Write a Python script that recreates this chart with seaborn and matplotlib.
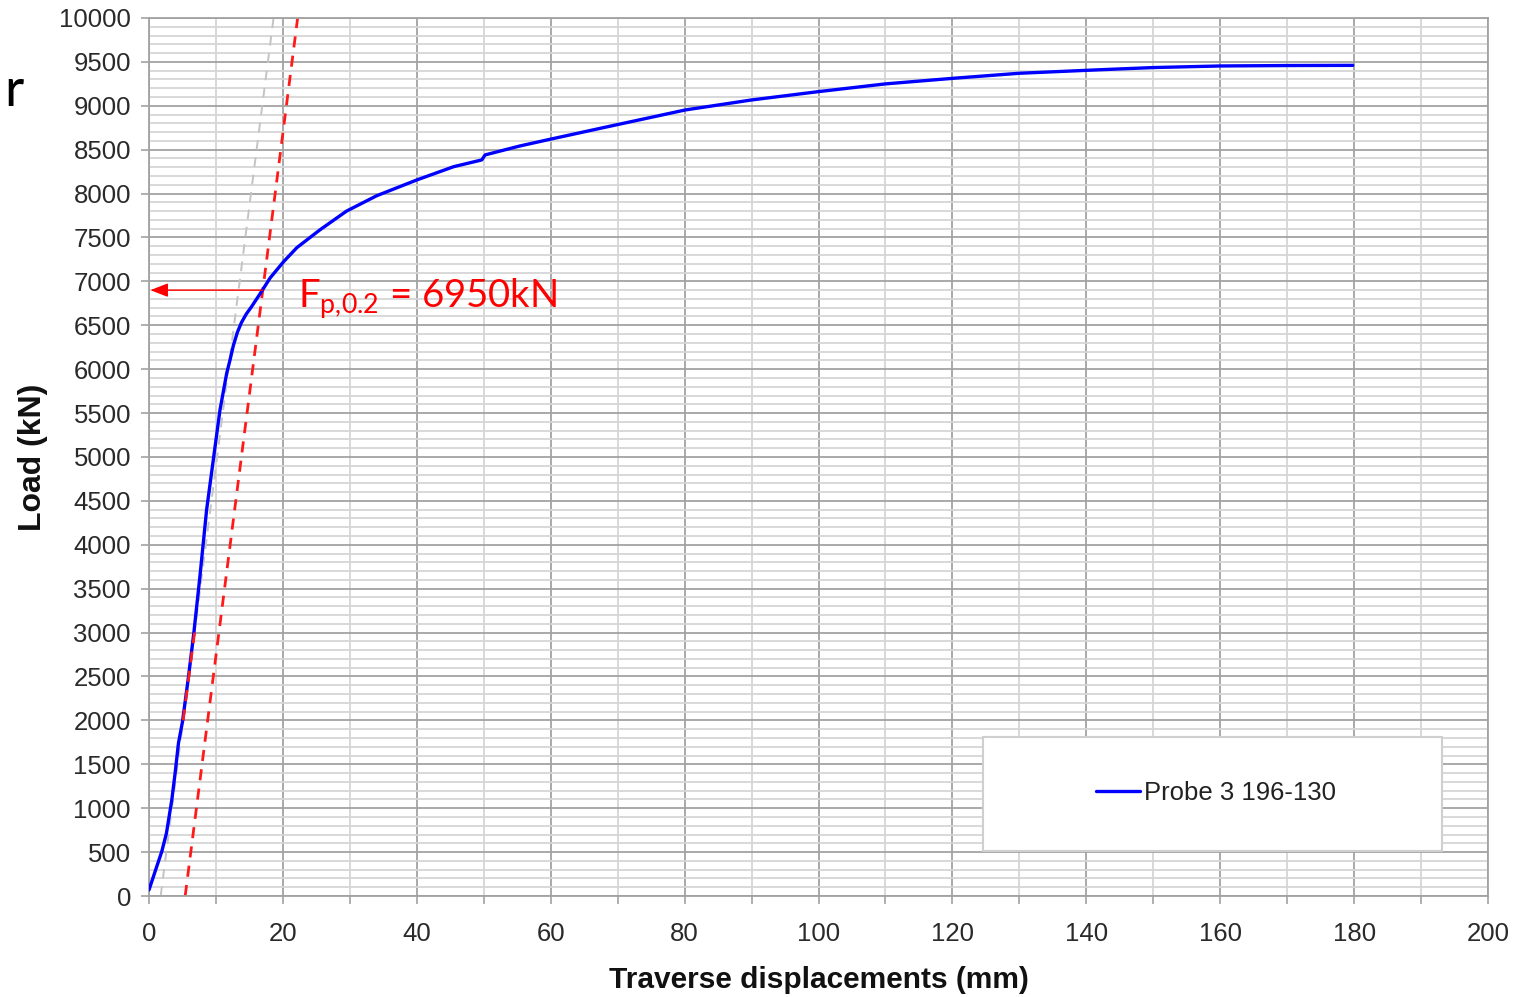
import matplotlib
matplotlib.use("Agg")
import matplotlib.pyplot as plt
import matplotlib.ticker as mticker
from matplotlib.patches import Rectangle
from matplotlib.lines import Line2D
import seaborn as sns
import pandas as pd

# Kurve Probe 3
verschiebung_mm = [0, 0.9, 1.9, 2.6, 3.4, 3.9, 4.4, 5.0, 5.9, 6.7, 7.6, 8.6, 9.6,
                   10.6, 11.6, 12.1, 12.6, 13.2, 13.8, 14.5, 15.3, 16.6, 18.1,
                   20.1, 22.1, 25.5, 29.5, 34.0, 40.0, 45.5, 49.7, 50.2, 55.4,
                   60.0, 67.4, 80.1, 90.0, 100.0, 110.0, 120.0, 130.0, 142.0,
                   150.0, 160.0, 170.0, 179.8]
last_kn = [70, 277, 505, 714, 1093, 1400, 1742, 1985, 2500, 3000, 3637, 4396, 4966,
           5535, 5953, 6105, 6270, 6420, 6530, 6625, 6710, 6860, 7040,
           7224, 7385, 7585, 7800, 7975, 8155, 8306, 8383, 8440, 8542,
           8620, 8743, 8952, 9066, 9161, 9249, 9312, 9370, 9410,
           9435, 9453, 9458, 9460]
legende_text = "Probe 3 196-130"

# Hilfsgeraden (elastische Gerade und um 0,2 % versetzte Gerade)
gerade_grau_x = [1.74, 18.6]
gerade_grau_y = [0, 10000]
tangente_rot_x = [5.1, 6.8]
tangente_rot_y = [2000, 3000]
versatz_rot_x = [5.4, 22.2]
versatz_rot_y = [0, 10000]

# Ablesung F_p,0.2
fp_x = 17.0
fp_y = 6900
fp_text = r"$\mathregular{F_{p{,}0.2}}$ = 6950kN"

df = pd.DataFrame({"x": verschiebung_mm, "y": last_kn})

sns.set_theme(style="white")
plt.rcParams["font.family"] = ["Liberation Sans", "DejaVu Sans"]

fig = plt.figure(figsize=(15.19, 9.97), dpi=100)
ax = fig.add_axes([0.0981, 0.1013, 0.8815, 0.8807])

gitter_dunkel = "#a2a2a2"
gitter_hell = "#d6d6d6"

ax.plot(gerade_grau_x, gerade_grau_y, color="#c4c4c4", lw=1.4,
        dashes=(5, 4), zorder=2)
ax.plot(versatz_rot_x, versatz_rot_y, color="#ff1a1a", lw=2.0,
        dashes=(4, 3), zorder=2)
sns.lineplot(data=df, x="x", y="y", sort=False, estimator=None,
             color="#0000ff", linewidth=2.4, ax=ax, zorder=3)
ax.plot(tangente_rot_x, tangente_rot_y, color="#ff1a1a", lw=2.0,
        dashes=(4, 3), zorder=4)

ax.annotate("", xy=(0.2, fp_y), xytext=(fp_x, fp_y),
            arrowprops=dict(arrowstyle="-|>,head_length=0.9,head_width=0.35",
                            color="#ff0000", lw=1.0, shrinkA=0, shrinkB=0),
            zorder=5)
ax.text(22.3, 6700, fp_text, color="#ff0000", fontsize=27.5,
        family=["Lato", "DejaVu Sans"], va="baseline", ha="left", zorder=5)

ax.set_xlim(0, 200)
ax.set_ylim(0, 10000)
ax.xaxis.set_major_locator(mticker.MultipleLocator(20))
ax.xaxis.set_minor_locator(mticker.MultipleLocator(10))
ax.yaxis.set_major_locator(mticker.MultipleLocator(500))
ax.yaxis.set_minor_locator(mticker.MultipleLocator(100))

ax.grid(which="major", axis="both", color=gitter_dunkel, lw=1.3)
ax.grid(which="minor", axis="both", color=gitter_hell, lw=1.3)
ax.set_axisbelow(True)

ax.tick_params(axis="both", which="major", labelsize=18.5, labelcolor="#2a2a2a",
               length=6, width=1.2, color=gitter_dunkel, direction="out")
ax.tick_params(axis="x", which="major", pad=13)
ax.tick_params(axis="y", which="major", pad=7)
ax.tick_params(axis="x", which="minor", length=6, width=1.2, color=gitter_dunkel)
ax.tick_params(axis="y", which="minor", length=0)
ax.tick_params(bottom=True, left=True, which="both")

for s in ax.spines.values():
    s.set_color(gitter_dunkel)
    s.set_linewidth(1.3)

ax.set_xlabel("Traverse displacements (mm)", fontsize=21.5, fontweight="bold",
              labelpad=14, color="#111111")
ax.set_ylabel("Load (kN)", fontsize=23, fontweight="bold", labelpad=8,
              color="#111111")

# Legendenkasten
ax.add_patch(Rectangle((0.623, 0.051), 0.343, 0.130, transform=ax.transAxes,
                       facecolor="white", edgecolor="#cfcfcf", lw=1.5, zorder=6))
griff = Line2D([], [], color="#0000ff", lw=2.4)
leg = ax.legend([griff], [legende_text], loc="center",
                bbox_to_anchor=(0.797, 0.117), frameon=False, fontsize=18.5,
                handlelength=1.7, handletextpad=0.15)
leg.set_zorder(7)
for t in leg.get_texts():
    t.set_color("#222222")

fig.text(0.003, 0.894, "r", fontsize=38, family=["Lato", "DejaVu Sans"],
         color="black", va="baseline")

fig.savefig("out.png", dpi=100)
